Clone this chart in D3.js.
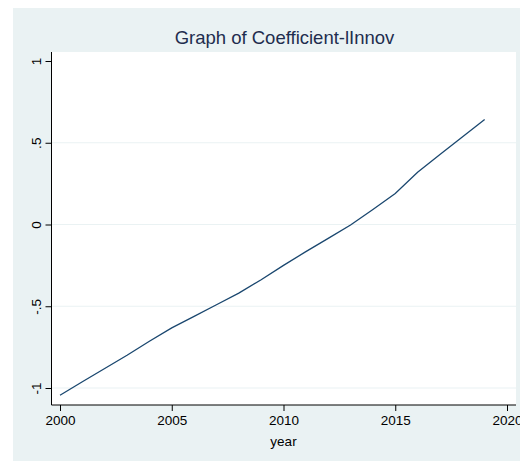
<!DOCTYPE html>
<html><head><meta charset="utf-8">
<script src="https://cdn.jsdelivr.net/npm/d3@7/dist/d3.min.js"></script>
<style>html,body{margin:0;padding:0;background:#fff}svg{display:block}</style>
</head><body>
<script>
const years = [2000,2001,2002,2003,2004,2005,2006,2007,2008,2009,2010,2011,2012,2013,2014,2015,2016,2017,2018,2019];
const coef = [-1.044,-0.962,-0.881,-0.800,-0.714,-0.632,-0.562,-0.491,-0.420,-0.338,-0.250,-0.166,-0.085,-0.003,0.092,0.190,0.320,0.428,0.535,0.642];
const xTicks = [2000,2005,2010,2015,2020];
const yTicks = [-1,-0.5,0,0.5,1];
const yTickLabels = ["-1","-.5","0",".5","1"];
const gridTicks = [-1,-0.5,0,0.5];
const title = "Graph of Coefficient-lInnov";
const xTitle = "year";

const W = 520, H = 461;
const svg = d3.select("body").append("svg").attr("width", W).attr("height", H);
svg.append("rect").attr("x",13).attr("y",8).attr("width",W-13).attr("height",H-8).attr("fill","#eaf2f3");
const pl = 51.5, pr = 516, pt = 52, pb = 405;
svg.append("rect").attr("x",pl).attr("y",pt).attr("width",pr-pl).attr("height",pb-pt).attr("fill","#fff");

const x = d3.scaleLinear().domain([2000,2020]).range([60,507]);
const y = d3.scaleLinear().domain([-1,1]).range([388,61]);

svg.append("g").selectAll("line").data(gridTicks).join("line")
  .attr("x1",pl).attr("x2",pr).attr("y1",d=>y(d)).attr("y2",d=>y(d))
  .attr("stroke","#eaf2f3").attr("stroke-width",1.2);

svg.append("path").datum(years.map((yr,i)=>[yr,coef[i]]))
  .attr("d", d3.line().x(d=>x(d[0])).y(d=>y(d[1])))
  .attr("fill","none").attr("stroke","#1a476f").attr("stroke-width",1.3);

const font = "'Liberation Sans', Arial, sans-serif";
const tickFs = 13.5;
const yAxis = svg.append("g").attr("transform",`translate(${pl},0)`)
  .call(d3.axisLeft(y).tickValues(yTicks).tickSize(6).tickPadding(4).tickFormat((d,i)=>yTickLabels[i]));
yAxis.attr("font-size",tickFs).attr("font-family",font);
yAxis.select(".domain").attr("d",`M0,${pt}V${pb}`).attr("stroke","#000");
yAxis.selectAll(".tick line").attr("stroke","#000");
yAxis.selectAll(".tick text")
  .style("font-family",font).style("font-size",tickFs+"px").attr("fill","#000")
  .attr("x",null).attr("dy",null).attr("text-anchor","middle")
  .attr("transform","translate(-10.5,0) rotate(-90)");

const xAxis = svg.append("g").attr("transform",`translate(0,${pb})`)
  .call(d3.axisBottom(x).tickValues(xTicks).tickSize(6).tickPadding(4).tickFormat(d3.format("d")));
xAxis.attr("font-size",tickFs).attr("font-family",font);
xAxis.select(".domain").attr("d",`M${pl},0H${pr}`).attr("stroke","#000");
xAxis.selectAll(".tick line").attr("stroke","#000");
xAxis.selectAll(".tick text").style("font-family",font).style("font-size",tickFs+"px").attr("fill","#000");

svg.append("text").attr("x",283.5).attr("y",446).attr("text-anchor","middle")
  .style("font-family",font).style("font-size",tickFs+"px").attr("fill","#000").text(xTitle);
svg.append("text").attr("x",284.5).attr("y",44).attr("text-anchor","middle")
  .style("font-family",font).style("font-size","18.5px").attr("fill","#1e2d4e").text(title);
</script>
</body></html>
